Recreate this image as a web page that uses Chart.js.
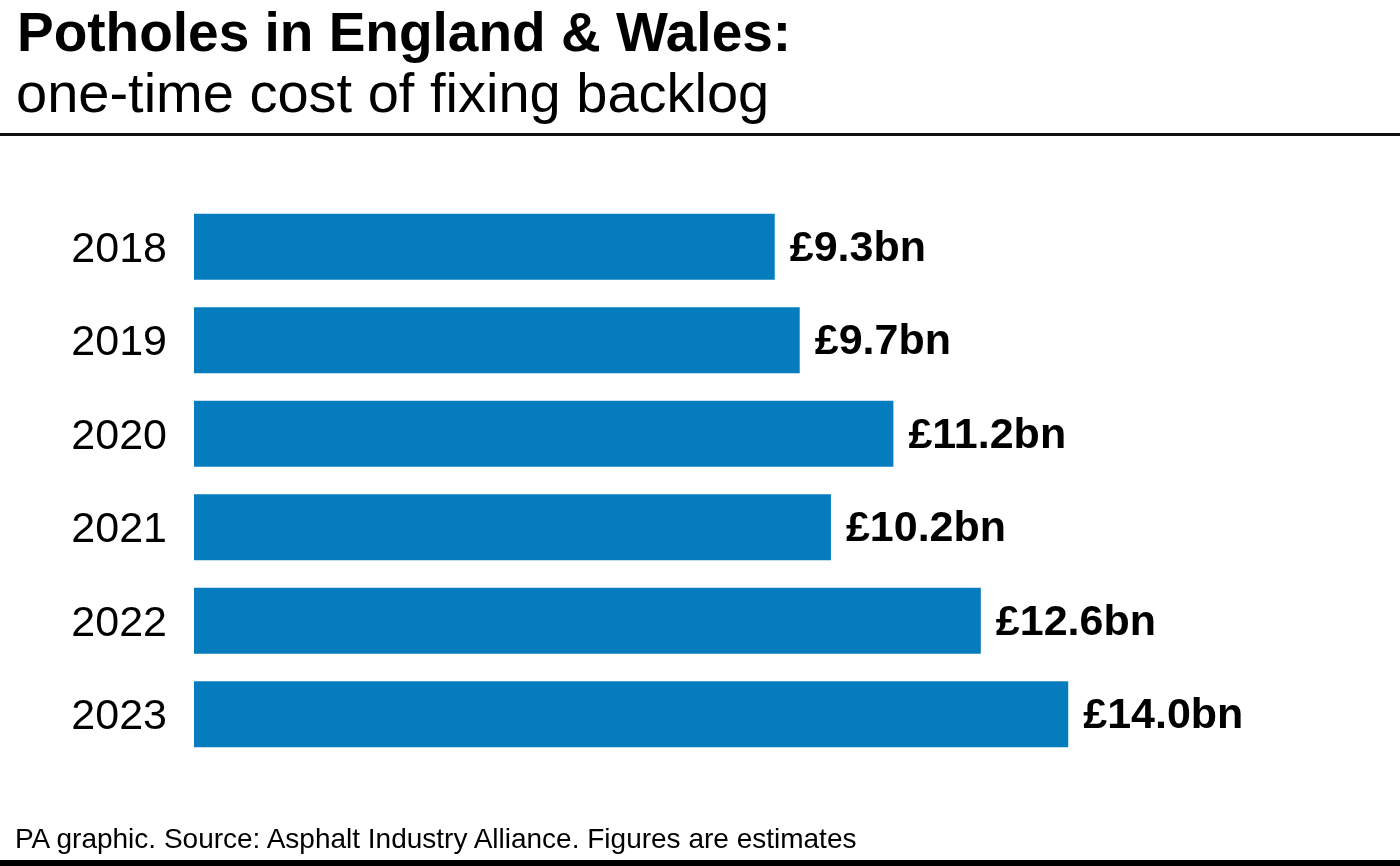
<!DOCTYPE html>
<html>
<head>
<meta charset="utf-8">
<script src="https://cdn.jsdelivr.net/npm/chart.js@4"></script>
<style>
  html, body { margin: 0; padding: 0; background: #fff; }
  body { width: 1400px; height: 866px; position: relative; overflow: hidden; font-family: "Liberation Sans", Arial, sans-serif; color: #000; }
  .title { position: absolute; left: 17px; top: 5px; font-size: 55px; font-weight: bold; line-height: 1; white-space: nowrap; }
  .subtitle { position: absolute; left: 16px; top: 65px; font-size: 56px; line-height: 1; white-space: nowrap; }
  .rule { position: absolute; left: 0; top: 133px; width: 1400px; height: 3px; background: #111; }
  .footer { position: absolute; left: 15px; top: 825px; font-size: 28px; line-height: 1; white-space: nowrap; }
  .bottom { position: absolute; left: 0; top: 860px; width: 1400px; height: 6px; background: #000; }
  .chart-box { position: absolute; left: 0; top: 0; width: 1400px; height: 866px; }
</style>
</head>
<body>
<div class="title">Potholes in England &amp; Wales:</div>
<div class="subtitle">one-time cost of fixing backlog</div>
<div class="rule"></div>
<div class="chart-box"><canvas id="chart" width="1400" height="866"></canvas></div>
<div class="footer">PA graphic. Source: Asphalt Industry Alliance. Figures are estimates</div>
<div class="bottom"></div>

<script>
// data (£bn)
const years = ["2018", "2019", "2020", "2021", "2022", "2023"];
const backlogCost = [9.3, 9.7, 11.2, 10.2, 12.6, 14.0];
const valueLabels = ["£9.3bn", "£9.7bn", "£11.2bn", "£10.2bn", "£12.6bn", "£14.0bn"];

// Draw the "£x.xbn" labels just past the end of each bar
const valueLabelPlugin = {
  id: "valueLabels",
  afterDatasetsDraw(chart) {
    const ctx = chart.ctx;
    const meta = chart.getDatasetMeta(0);
    ctx.save();
    ctx.font = "bold 43px 'Liberation Sans', Arial, sans-serif";
    ctx.fillStyle = "#000";
    ctx.textAlign = "left";
    ctx.textBaseline = "middle";
    meta.data.forEach((bar, i) => {
      ctx.fillText(valueLabels[i], bar.x + 15, bar.y + 2);
    });
    ctx.restore();
  },
};

const ctx = document.getElementById("chart").getContext("2d");
new Chart(ctx, {
  type: "bar",
  data: {
    labels: years,
    datasets: [
      {
        data: backlogCost,
        backgroundColor: "#047cbd",
        borderWidth: 0,
        barPercentage: 0.707,
        categoryPercentage: 1,
      },
    ],
  },
  options: {
    indexAxis: "y",
    responsive: false,
    maintainAspectRatio: false,
    animation: false,
    devicePixelRatio: 1,
    layout: {
      padding: { top: 200, bottom: 105, left: 0, right: 82 },
    },
    plugins: {
      legend: { display: false },
      tooltip: { enabled: false },
    },
    scales: {
      x: {
        display: false,
        min: 0,
        max: 18,
      },
      y: {
        grid: { display: false, drawTicks: false },
        border: { display: false },
        ticks: {
          color: "#000",
          padding: 27,
          labelOffset: 3,
          font: { family: "'Liberation Sans', Arial, sans-serif", size: 43 },
        },
        afterFit(scale) {
          scale.width = 194;
        },
      },
    },
  },
  plugins: [valueLabelPlugin],
});
</script>
</body>
</html>
